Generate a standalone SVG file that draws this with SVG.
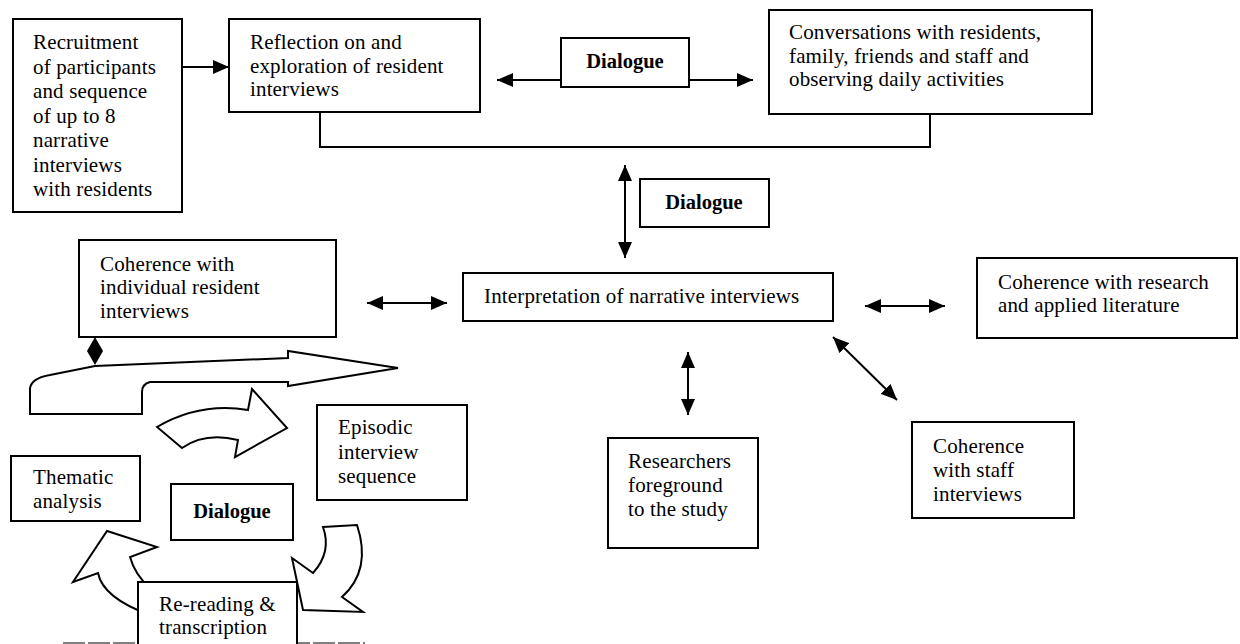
<svg xmlns="http://www.w3.org/2000/svg" width="1240" height="644" viewBox="0 0 1240 644">
<style>
.box{fill:#fff;stroke:#000;stroke-width:2}
.t{font-family:"Liberation Serif","Times New Roman",serif;font-size:21px;letter-spacing:0.15px;fill:#000}
.b{font-family:"Liberation Serif","Times New Roman",serif;font-size:20.5px;font-weight:bold;fill:#000}
.c{stroke:#000;stroke-width:2;fill:none}
.blk{fill:#fff;stroke:#000;stroke-width:2;stroke-linejoin:miter}
</style>
<defs>
<marker id="ah" markerUnits="userSpaceOnUse" markerWidth="18" markerHeight="14" refX="16" refY="7" orient="auto-start-reverse">
<path d="M0,0 L16,7 L0,14 Z" fill="#000"/>
</marker>
</defs>
<rect width="1240" height="644" fill="#fff"/>

<g id="flow-arrows">
<path class="blk" d="M30,414 L30,388 Q32,378 50,375 L95,366 L288,358 L288,351 L398,368 L288,386 L288,382 L150,382 Q142,384 142,392 L142,414 Z"/>
<path class="blk" d="M157,427 Q200,402 248,410 L252,389 L287,428 L235,457 L238,440 Q205,432 182,448 Z"/>
<path class="blk" d="M323,527 L357,525 Q372,570 342,597 L363,612 L303,610 L292,558 L313,573 Q332,552 323,527 Z"/>
<path class="blk" d="M150,615 Q103,598 98,573 L73,582 L107,531 L157,547 L130,557 Q135,575 150,588 Z"/>
<path d="M95,337 L103,351 L95,365 L87,351 Z" fill="#000"/>
</g>

<g id="connectors">
<line class="c" x1="182" y1="67" x2="229" y2="67" marker-end="url(#ah)"/>
<line class="c" x1="561" y1="80" x2="497" y2="80" marker-end="url(#ah)"/>
<line class="c" x1="689" y1="80" x2="753" y2="80" marker-end="url(#ah)"/>
<polyline class="c" points="320,112 320,147 930,147 930,114"/>
<line class="c" x1="625" y1="165" x2="625" y2="258" marker-start="url(#ah)" marker-end="url(#ah)"/>
<line class="c" x1="367" y1="303" x2="447" y2="303" marker-start="url(#ah)" marker-end="url(#ah)"/>
<line class="c" x1="865" y1="306" x2="945" y2="306" marker-start="url(#ah)" marker-end="url(#ah)"/>
<line class="c" x1="833" y1="337" x2="897" y2="400" marker-start="url(#ah)" marker-end="url(#ah)"/>
<line class="c" x1="688" y1="352" x2="688" y2="415" marker-start="url(#ah)" marker-end="url(#ah)"/>
<line x1="63" y1="643" x2="365" y2="643" stroke="#555" stroke-width="1.5" stroke-dasharray="22,3"/>
</g>

<g id="recruitment">
<rect class="box" x="13" y="19" width="169" height="193"/>
<text class="t" x="33" y="49">Recruitment</text>
<text class="t" x="33" y="73.5">of participants</text>
<text class="t" x="33" y="98">and sequence</text>
<text class="t" x="33" y="122.5">of up to 8</text>
<text class="t" x="33" y="147">narrative</text>
<text class="t" x="33" y="171.5">interviews</text>
<text class="t" x="33" y="196">with residents</text>
</g>

<g id="reflection">
<rect class="box" x="229" y="19" width="251" height="93"/>
<text class="t" x="250" y="49">Reflection on and</text>
<text class="t" x="250" y="72.5">exploration of resident</text>
<text class="t" x="250" y="96">interviews</text>
</g>

<g id="dialogue-top">
<rect class="box" x="561" y="38" width="128" height="49"/>
<text class="b" x="625" y="68" text-anchor="middle">Dialogue</text>
</g>

<g id="conversations">
<rect class="box" x="769" y="10" width="323" height="104"/>
<text class="t" x="789" y="39">Conversations with residents,</text>
<text class="t" x="789" y="62.5">family, friends and staff and</text>
<text class="t" x="789" y="86">observing daily activities</text>
</g>

<g id="dialogue-mid">
<rect class="box" x="640" y="179" width="129" height="48"/>
<text class="b" x="704" y="209" text-anchor="middle">Dialogue</text>
</g>

<g id="interpretation">
<rect class="box" x="463" y="273" width="370" height="48"/>
<text class="t" x="484" y="303">Interpretation of narrative interviews</text>
</g>

<g id="coherence-individual">
<rect class="box" x="79" y="240" width="257" height="97"/>
<text class="t" x="100" y="271">Coherence with</text>
<text class="t" x="100" y="294">individual resident</text>
<text class="t" x="100" y="318">interviews</text>
</g>

<g id="coherence-research">
<rect class="box" x="977" y="258" width="260" height="80"/>
<text class="t" x="998" y="289">Coherence with research</text>
<text class="t" x="998" y="312">and applied literature</text>
</g>

<g id="coherence-staff">
<rect class="box" x="912" y="422" width="162" height="96"/>
<text class="t" x="933" y="453">Coherence</text>
<text class="t" x="933" y="477">with staff</text>
<text class="t" x="933" y="501">interviews</text>
</g>

<g id="researchers">
<rect class="box" x="608" y="438" width="150" height="110"/>
<text class="t" x="628" y="468">Researchers</text>
<text class="t" x="628" y="492">foreground</text>
<text class="t" x="628" y="516">to the study</text>
</g>

<g id="episodic">
<rect class="box" x="317" y="405" width="150" height="95"/>
<text class="t" x="338" y="434">Episodic</text>
<text class="t" x="338" y="459">interview</text>
<text class="t" x="338" y="483">sequence</text>
</g>

<g id="thematic">
<rect class="box" x="11" y="456" width="129" height="65"/>
<text class="t" x="33" y="484">Thematic</text>
<text class="t" x="33" y="508">analysis</text>
</g>

<g id="dialogue-bottom">
<rect class="box" x="171" y="484" width="122" height="56"/>
<text class="b" x="232" y="518" text-anchor="middle">Dialogue</text>
</g>

<g id="rereading">
<rect class="box" x="138" y="582" width="159" height="80"/>
<text class="t" x="159" y="611">Re-reading &amp;</text>
<text class="t" x="159" y="634">transcription</text>
</g>
</svg>
